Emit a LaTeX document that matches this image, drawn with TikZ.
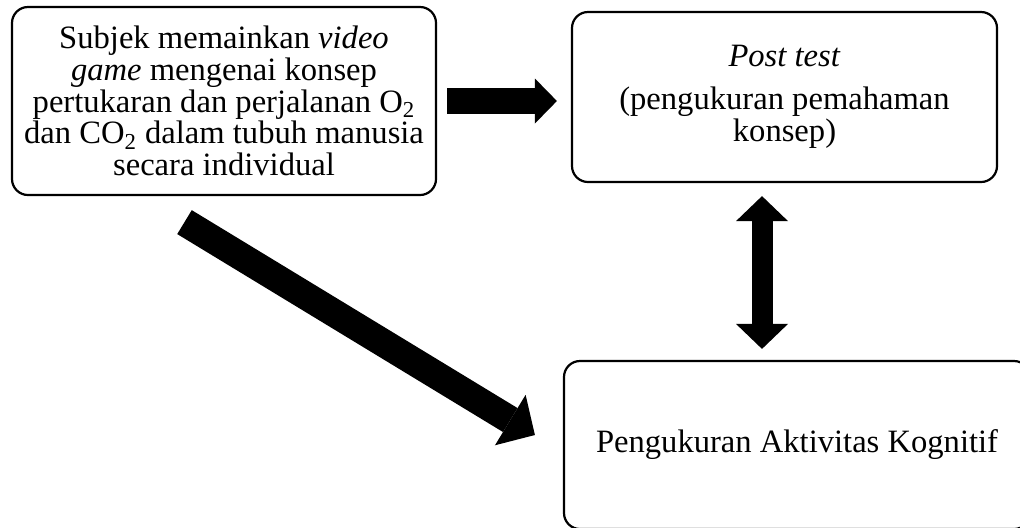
\documentclass[tikz,border=0pt]{standalone}
\usepackage{fontspec}
\setmainfont{Liberation Serif}
\usetikzlibrary{arrows.meta}

\tikzset{every picture/.style={line width=1.1pt}}
\tikzset{
    roundbox/.style={draw, rounded corners=8pt, align=center, inner sep=0pt,
        font=\fontsize{16.3}{15.9}\selectfont},
    blockarrow/.style={line width=13pt, -{Triangle[width=22.5pt, length=11pt, line width=0pt]}},
    diagarrow/.style={line width=14pt, -{Triangle[width=29.5pt, length=14.4pt, line width=0pt]}},
    dblarrow/.style={line width=10.5pt, {Triangle[width=26pt, length=12.5pt, line width=0pt]}-{Triangle[width=26pt, length=12.5pt, line width=0pt]}}
}

\begin{document}
\begin{tikzpicture}[x=0.5pt, y=-0.5pt]
    \useasboundingbox (0,0) rectangle (1020,527);

    \node[roundbox, minimum width=212pt, minimum height=94pt] (game) at (224,101)
        {Subjek memainkan \textit{video}\\ \textit{game} mengenai konsep\\ pertukaran dan perjalanan O\textsubscript{2}\\ dan CO\textsubscript{2} dalam tubuh manusia\\ secara individual};
    \node[roundbox, minimum width=212.5pt, minimum height=85pt] (post) at (784.5,97)
        {\textit{Post test}\\[5.5pt] (pengukuran pemahaman\\ konsep)};
    \node[roundbox, minimum width=233pt, minimum height=84pt] (kog) at (797,445)
        {Pengukuran Aktivitas Kognitif};

    \draw[blockarrow, shorten <=5pt, shorten >=7pt] (game.east) -- (game.east -| post.west);
    \draw[dblarrow, shorten <=6.5pt, shorten >=5.5pt] ([xshift=-11.25pt]post.south) -- ([xshift=-11.25pt]post.south |- kog.north);
    \draw[diagarrow] ([shift={(-39.5,26)}]game.south) -- ([shift={(-28,-10)}]kog.west);
\end{tikzpicture}
\end{document}
